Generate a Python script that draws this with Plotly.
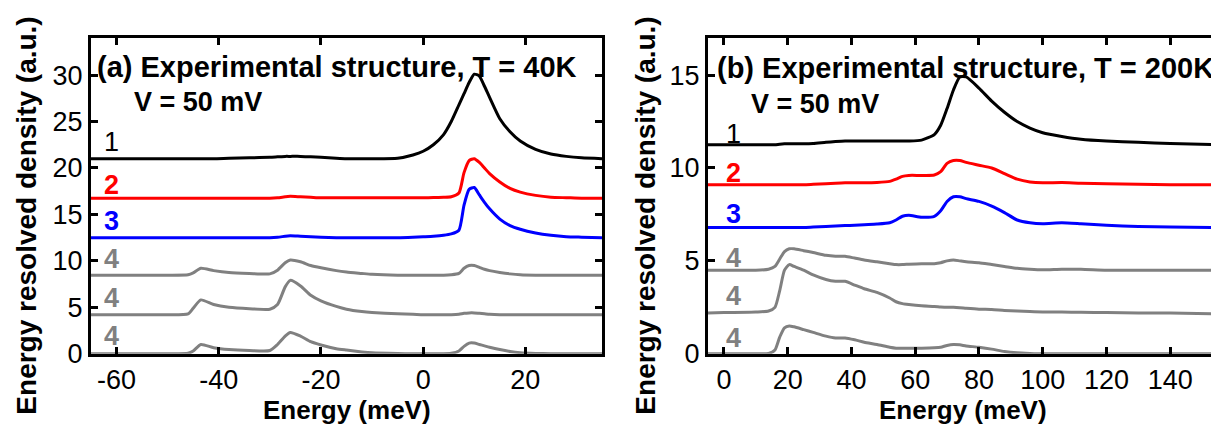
import plotly.graph_objects as go

# ---------------- data: panel (a) T = 40K ----------------
energy_a = [-65, -50, -46, -45, -43.5, -41, -38, -34, -30, -28.5, -27, -26, -24, -22, -20,
            -17, -15, -12, -10, -5, -2, 0, 2, 4, 5.5, 7, 8, 9, 10, 11, 12, 13, 15, 17, 19,
            22, 25, 28, 31, 35]
a_curve1 = [21.0, 21.0, 21.0, 21.0, 21.0, 21.0, 21.05, 21.1, 21.15, 21.2, 21.25, 21.25, 21.25, 21.2, 21.15,
            21.05, 21.0, 21.0, 21.0, 21.05, 21.4, 21.8, 22.5, 23.6, 25.0, 26.8, 28.0, 29.2, 30.1, 29.9,
            28.8, 27.6, 25.3, 23.9, 22.9, 22.0, 21.5, 21.25, 21.1, 21.0]
a_curve2 = [16.75, 16.75, 16.75, 16.75, 16.75, 16.75, 16.75, 16.75, 16.75, 16.8, 16.9, 16.95, 16.9, 16.85, 16.8,
            16.8, 16.8, 16.8, 16.8, 16.8, 16.8, 16.8, 16.82, 16.85, 16.9, 17.3, 19.5, 20.8, 21.0, 20.6,
            20.0, 19.4, 18.5, 17.8, 17.4, 17.05, 16.85, 16.8, 16.75, 16.75]
a_curve3 = [12.5, 12.5, 12.5, 12.5, 12.5, 12.5, 12.5, 12.5, 12.5, 12.55, 12.65, 12.7, 12.65, 12.6, 12.55,
            12.5, 12.5, 12.5, 12.5, 12.5, 12.55, 12.6, 12.65, 12.75, 12.9, 13.3, 16.0, 17.7, 17.9, 17.1,
            16.3, 15.6, 14.5, 13.8, 13.4, 13.0, 12.75, 12.6, 12.55, 12.5]
a_curve4_top = [8.45, 8.45, 8.5, 8.7, 9.2, 8.95, 8.75, 8.65, 8.6, 9.0, 9.8, 10.1, 9.9, 9.5, 9.25,
                8.95, 8.8, 8.65, 8.55, 8.45, 8.45, 8.45, 8.45, 8.45, 8.5, 8.65, 9.2, 9.5, 9.5, 9.3,
                9.1, 8.95, 8.75, 8.6, 8.5, 8.45, 8.45, 8.45, 8.45, 8.45]
a_curve4_mid = [4.2, 4.2, 4.3, 4.9, 5.8, 5.3, 5.0, 4.85, 4.8, 5.3, 7.2, 7.9, 7.3, 6.3, 5.7,
                5.1, 4.8, 4.55, 4.45, 4.3, 4.25, 4.2, 4.2, 4.2, 4.2, 4.25, 4.35, 4.4, 4.4, 4.35,
                4.3, 4.25, 4.2, 4.2, 4.2, 4.2, 4.2, 4.2, 4.2, 4.2]
a_curve4_bot = [0, 0, 0.05, 0.3, 1.0, 0.65, 0.45, 0.35, 0.35, 1.0, 1.9, 2.3, 1.9, 1.3, 0.95,
                0.55, 0.4, 0.2, 0.1, 0.02, 0, 0, 0, 0, 0.05, 0.3, 0.8, 1.15, 1.15, 1.0,
                0.85, 0.7, 0.45, 0.25, 0.12, 0.04, 0, 0, 0, 0]

# ---------------- data: panel (b) T = 200K ----------------
energy_b = [-5, 0, 10, 14, 16, 17.5, 19, 20.5, 22, 25, 28, 32, 35, 38, 41, 44, 48, 52, 54, 56,
            58, 62, 66, 68, 70, 72, 74, 76, 80, 84, 88, 92, 96, 100, 106, 112, 120, 130, 140, 155]
b_curve1 = [11.25, 11.25, 11.25, 11.25, 11.25, 11.28, 11.3, 11.3, 11.3, 11.3, 11.32, 11.38, 11.42, 11.45, 11.45,
            11.45, 11.45, 11.45, 11.45, 11.45, 11.45, 11.5, 11.8, 12.3, 13.2, 14.2, 14.9, 14.9, 14.3, 13.6,
            13.0, 12.5, 12.15, 11.9, 11.7, 11.55, 11.45, 11.38, 11.32, 11.25]
b_curve2 = [9.1, 9.1, 9.1, 9.1, 9.1, 9.1, 9.1, 9.1, 9.1, 9.1, 9.12, 9.15, 9.18, 9.2, 9.2,
            9.2, 9.22, 9.28, 9.4, 9.55, 9.6, 9.6, 9.62, 9.8, 10.25, 10.4, 10.4, 10.3, 10.15, 10.0,
            9.7, 9.4, 9.25, 9.2, 9.22, 9.18, 9.15, 9.12, 9.1, 9.1]
b_curve3 = [6.8, 6.8, 6.8, 6.8, 6.8, 6.8, 6.8, 6.8, 6.8, 6.8, 6.82, 6.85, 6.88, 6.9, 6.92,
            6.95, 6.98, 7.05, 7.2, 7.4, 7.45, 7.35, 7.4, 7.7, 8.2, 8.45, 8.45, 8.35, 8.2, 7.95,
            7.6, 7.2, 7.05, 7.0, 7.05, 7.0, 6.92, 6.85, 6.82, 6.8]
b_curve4_top = [4.5, 4.5, 4.5, 4.55, 4.7, 5.1, 5.5, 5.65, 5.65, 5.55, 5.45, 5.3, 5.25, 5.25, 5.15,
                5.05, 4.95, 4.85, 4.8, 4.8, 4.82, 4.85, 4.85, 4.9, 5.0, 5.05, 5.0, 4.95, 4.9, 4.8,
                4.7, 4.6, 4.55, 4.52, 4.55, 4.55, 4.5, 4.5, 4.5, 4.5]
b_curve4_mid = [2.2, 2.22, 2.25, 2.3, 2.5, 3.4, 4.5, 4.8, 4.7, 4.5, 4.25, 4.0, 3.9, 3.9, 3.7,
                3.5, 3.3, 3.0, 2.8, 2.7, 2.65, 2.58, 2.55, 2.52, 2.5, 2.5, 2.48, 2.45, 2.4, 2.38,
                2.33, 2.3, 2.27, 2.25, 2.25, 2.23, 2.22, 2.2, 2.2, 2.15]
b_curve4_bot = [0, 0, 0, 0.02, 0.2, 0.9, 1.4, 1.5, 1.45, 1.3, 1.15, 0.95, 0.85, 0.85, 0.75,
                0.62, 0.5, 0.35, 0.3, 0.3, 0.3, 0.3, 0.32, 0.35, 0.45, 0.5, 0.48, 0.42, 0.35, 0.25,
                0.12, 0.05, 0.02, 0, 0, 0, 0, 0, 0, 0]

xticks_a = [-60, -40, -20, 0, 20]
xticklabels_a = ["-60", "-40", "-20", "0", "20"]
yticks_a = [0, 5, 10, 15, 20, 25, 30]
xticks_b = [0, 20, 40, 60, 80, 100, 120, 140]
yticks_b = [0, 5, 10, 15]

curve_labels = ["1", "2", "3", "4", "4", "4"]
panel_titles = ["(a) Experimental structure, T = 40K", "(b) Experimental structure, T = 200K"]
voltage_label = "V = 50 mV"
x_title = "Energy (meV)"
y_title = "Energy resolved density (a.u.)"

# ---------------- styling ----------------
W, H = 1219, 439
FONT = "Liberation Sans, Arial, sans-serif"
BLACK, RED, BLUE, GRAY = "#000000", "#ff0000", "#0000ff", "#808080"
colors = [BLACK, RED, BLUE, GRAY, GRAY, GRAY]

fig = go.Figure()

series_a = [a_curve1, a_curve2, a_curve3, a_curve4_top, a_curve4_mid, a_curve4_bot]
series_b = [b_curve1, b_curve2, b_curve3, b_curve4_top, b_curve4_mid, b_curve4_bot]

for ys, c in zip(series_a, colors):
    fig.add_trace(go.Scatter(x=energy_a, y=ys, mode="lines", xaxis="x", yaxis="y",
                             line=dict(color=c, width=3, shape="spline", smoothing=0.6),
                             showlegend=False, hoverinfo="skip"))
for ys, c in zip(series_b, colors):
    fig.add_trace(go.Scatter(x=energy_b, y=ys, mode="lines", xaxis="x2", yaxis="y2",
                             line=dict(color=c, width=3, shape="spline", smoothing=0.6),
                             showlegend=False, hoverinfo="skip"))

ydom = [1 - 358 / H, 1 - 31 / H]
axis_common = dict(showgrid=False, zeroline=False, showline=True, linecolor="black", linewidth=3,
                   mirror="ticks", ticks="inside", ticklen=7, tickwidth=2.5, tickcolor="black",
                   tickfont=dict(family=FONT, size=27, color="black"))

fig.update_layout(
    width=W, height=H, margin=dict(l=0, r=0, t=0, b=0),
    paper_bgcolor="white", plot_bgcolor="white",
    xaxis=dict(domain=[83 / W, 594 / W], range=[-65, 35], tickvals=xticks_a, ticktext=xticklabels_a,
               anchor="y", **axis_common),
    yaxis=dict(domain=ydom, range=[0, 34], tickvals=yticks_a, anchor="x", **axis_common),
    xaxis2=dict(domain=[700 / W, 1210 / W], range=[-5, 155], tickvals=xticks_b, anchor="y2", **axis_common),
    yaxis2=dict(domain=ydom, range=[0, 17], tickvals=yticks_b, anchor="x2", **axis_common),
)

ann = []
title_font = dict(family=FONT, size=29, color="black")
v_font = dict(family=FONT, size=27, color="black")
axis_title_font = dict(family=FONT, size=26, color="black")
ytitle_font = dict(family=FONT, size=28, color="black")
# panel titles and voltage
ann.append(dict(xref="x", yref="y", x=-64.2, y=30.9, text="<b>%s</b>" % panel_titles[0],
                xanchor="left", yanchor="middle", showarrow=False, font=title_font))
ann.append(dict(xref="x", yref="y", x=-57, y=27.1, text="<b>%s</b>" % voltage_label,
                xanchor="left", yanchor="middle", showarrow=False, font=v_font))
ann.append(dict(xref="x2", yref="y2", x=-2.8, y=15.4, text="<b>%s</b>" % panel_titles[1],
                xanchor="left", yanchor="middle", showarrow=False, font=title_font))
ann.append(dict(xref="x2", yref="y2", x=8, y=13.45, text="<b>%s</b>" % voltage_label,
                xanchor="left", yanchor="middle", showarrow=False, font=v_font))

# curve number labels
lab_a_y = [22.8, 18.2, 14.3, 10.2, 6.0, 1.9]
lab_b_y = [11.85, 9.75, 7.55, 5.15, 3.1, 0.85]
for i, (lbl, c) in enumerate(zip(curve_labels, colors)):
    txt = lbl if i == 0 else "<b>%s</b>" % lbl
    ann.append(dict(xref="x", yref="y", x=-61, y=lab_a_y[i], text=txt, showarrow=False,
                    xanchor="center", yanchor="middle", font=dict(family=FONT, size=27, color=c)))
    ann.append(dict(xref="x2", yref="y2", x=3, y=lab_b_y[i], text=txt, showarrow=False,
                    xanchor="center", yanchor="middle", font=dict(family=FONT, size=27, color=c)))

# axis titles
for xc in [339 / W, 955 / W]:
    ann.append(dict(xref="paper", yref="paper", x=xc, y=1 - 416 / H, text="<b>%s</b>" % x_title,
                    showarrow=False, xanchor="center", yanchor="middle", font=axis_title_font))
for xc in [19 / W, 638 / W]:
    ann.append(dict(xref="paper", yref="paper", x=xc, y=1 - 215 / H, text="<b>%s</b>" % y_title,
                    textangle=-90, showarrow=False, xanchor="center", yanchor="middle", font=ytitle_font))

fig.update_layout(annotations=ann)
fig.write_html("out.html")
